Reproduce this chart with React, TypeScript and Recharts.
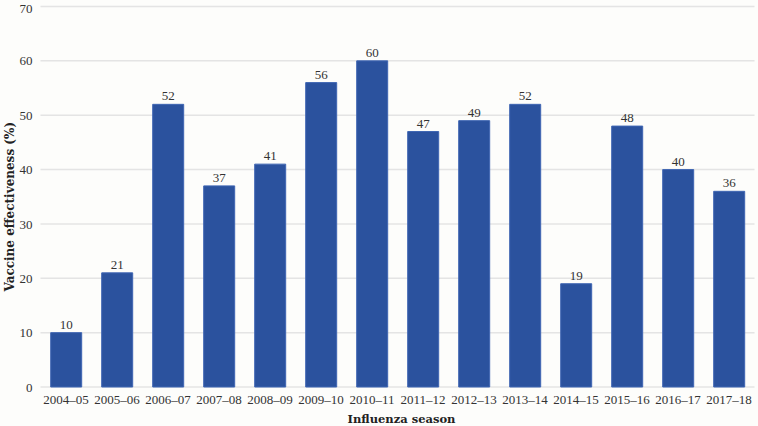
import React from "react";
import { BarChart, Bar, XAxis, YAxis, CartesianGrid, LabelList } from "recharts";

const seasons = ["2004–05","2005–06","2006–07","2007–08","2008–09","2009–10","2010–11","2011–12","2012–13","2013–14","2014–15","2015–16","2016–17","2017–18"];
const effectiveness = [10,21,52,37,41,56,60,47,49,52,19,48,40,36];
const yTicks = [0,10,20,30,40,50,60,70];

const data = seasons.map((s, i) => ({ season: s, ve: effectiveness[i] }));

const FONT = "Liberation Serif, serif";
const TITLE_FONT = "DejaVu Serif, serif";

const YTitle = (props: any) => {
  const vb = props.viewBox || { x: 0, y: 0, width: 0, height: 0 };
  const cx = vb.x + 10;
  const cy = vb.y + vb.height / 2 + 10;
  return (
    <text
      x={cx}
      y={cy}
      transform={`rotate(-90 ${cx} ${cy})`}
      textAnchor="middle"
      dominantBaseline="central"
      style={{ fontFamily: TITLE_FONT, fontSize: 12, fontWeight: "bold", fill: "#222" }}
    >
      Vaccine effectiveness (%)
    </text>
  );
};

const XTitle = (props: any) => {
  const vb = props.viewBox || { x: 0, y: 0, width: 0, height: 0 };
  const cx = vb.x + vb.width / 2 + 4;
  return (
    <text
      x={cx}
      y={423}
      textAnchor="middle"
      style={{ fontFamily: TITLE_FONT, fontSize: 11.5, fontWeight: "bold", fill: "#222" }}
    >
      Influenza season
    </text>
  );
};

export default function App() {
  return (
    <div style={{ position: "absolute", left: 0, top: 0, width: 758, height: 426, background: "#fdfdfb", fontFamily: FONT }}>
      <BarChart width={758} height={426} data={data} margin={{ top: 6.5, right: 3.5, bottom: 0, left: 0 }} barCategoryGap="20%" style={{ fontFamily: FONT }}>
        <CartesianGrid horizontal vertical={false} stroke="#e4e4e4" strokeWidth={1.5} />
        <XAxis
          dataKey="season"
          axisLine={false}
          tickLine={false}
          height={39}
          interval={0}
          tick={{ fontFamily: FONT, fontSize: 13, fill: "#333" }}
          tickMargin={2}
          label={<XTitle />}
        />
        <YAxis
          domain={[0, 70]}
          ticks={yTicks}
          width={40.5}
          axisLine={false}
          tickLine={false}
          tickMargin={2}
          tick={{ fontFamily: FONT, fontSize: 13, fill: "#333" }}
          label={<YTitle />}
        />
        <Bar dataKey="ve" fill="#2b529e" stroke="#3f66b3" strokeWidth={1} isAnimationActive={false}>
          <LabelList dataKey="ve" position="top" offset={4} style={{ fontFamily: FONT, fontSize: 13, fill: "#333" }} />
        </Bar>
      </BarChart>
    </div>
  );
}
